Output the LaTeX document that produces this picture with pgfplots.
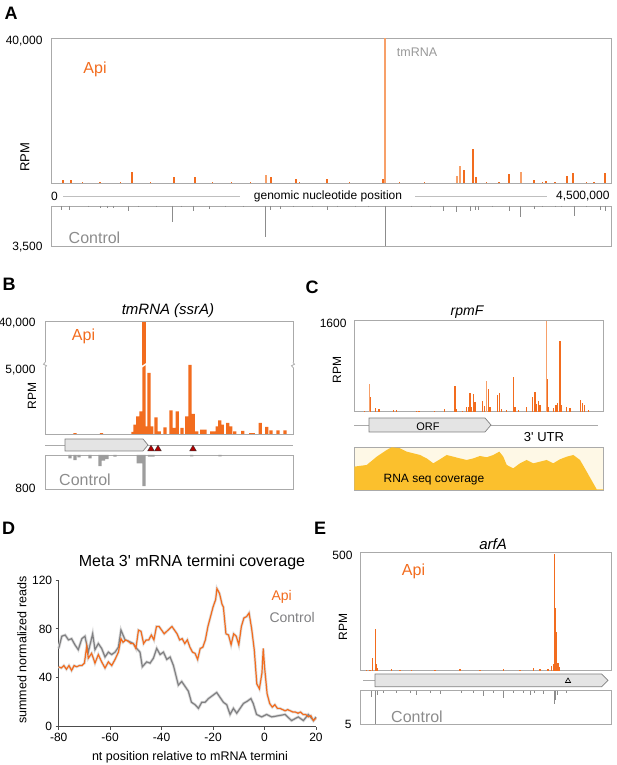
\documentclass[border=0pt]{standalone}
\usepackage{pgfplots}
\pgfplotsset{compat=1.18}
\usepackage{pgfplotstable}
\usepackage{fontspec}
\setmainfont{Liberation Sans}

\definecolor{api}{RGB}{242,108,30}
\definecolor{apipale}{RGB}{247,160,105}
\definecolor{ctrl}{RGB}{140,140,140}
\definecolor{frame}{RGB}{170,170,170}
\definecolor{genefill}{RGB}{228,228,228}
\definecolor{covfill}{RGB}{251,192,45}
\definecolor{covbg}{RGB}{254,248,230}
\definecolor{dgray}{RGB}{128,128,130}

\newcommand{\fs}[1]{\fontsize{#1}{#1}\selectfont}

\pgfplotsset{
  track/.style={scale only axis, anchor=south west,
    axis line style={draw=frame, line width=0.9pt},
    xtick=\empty, ytick=\empty},
  gene/.style={scale only axis, anchor=south west, hide axis,
    clip=false, ymin=0, ymax=1},
}
\tikzset{px/.style={x=1pt,y=1pt}}

% panel D: meta coverage
\pgfplotstableread{
x y
-80 49
-79 48
-78 50
-77 47
-76 50
-75 46
-74 50
-73 49
-72 50
-71 50
-70 52
-69.1 66
-68.5 56
-67.2 60
-65.9 52
-64.6 59
-63.3 53
-62 48
-60.7 53
-59.4 50
-58.1 55
-56.8 61
-55.8 72
-55 69
-54 71
-53 70
-52 68
-51 68
-50 64
-49 79
-48 78
-47 68
-46 71
-45 71
-44 75
-43 71
-42 82
-41 82
-40 79
-39 76
-38 78
-37 80
-36 82
-35 79
-34 76
-33 71
-32 72
-31 68
-30 71
-29 65
-28 61
-27 60
-26 55
-25 64
-24 65
-23 71
-22 82
-21 90
-20 98
-19 104
-18.5 113
-17.5 109
-16.5 100
-16 98
-15 76
-14 75
-13 67
-12 76
-11 74
-10 67
-9 82
-8 89
-7 90
-6 93
-5 80
-4 63
-3 35
-2 31
-1 44
-0.5 64
0 49
1 27
2 19
3 16
4 18
5 15
6 15
7 14
8 13
9 14
10 13
11 12
12 12
13 11
14 12
15 10
16 10
17 8
18 9
19 5
20 7
}\apimeta

\pgfplotstableread{
x y
-80 64
-78.8 74
-77.5 75
-76.2 71
-75 72
-73.7 67
-72.4 63
-71 72
-69.8 74
-68.5 61
-66.8 76
-65.9 63
-64.6 68
-63.3 64
-62 57
-60.7 61
-59.4 59
-58.1 61
-56.8 65
-55.8 79
-54.2 71
-52.9 70
-51 68
-49.7 64
-48.4 61
-47.5 49
-45.8 53
-44.5 52
-43.2 56
-41.9 64
-40.6 59
-39.3 61
-38 55
-36.7 57
-35.4 50
-33.5 34
-32.2 37
-30.9 33
-29.6 29
-28.4 20
-27 18
-25.7 15
-24.4 20
-23.1 20
-21.8 23
-20.5 25
-18.6 28
-17.3 24
-16 20
-14.7 18
-13.4 10
-12.1 15
-10.8 11
-9.5 15
-8.2 19
-6.6 21
-5.3 23
-4.4 19
-3.1 10
-1.1 8
0.8 10
2.8 8
5.4 9
8 10
10.5 5
13.1 8
15.1 5
17 10
19 5
20 8
}\ctrlmeta

% panel C: RNA seq coverage (% of box height)
\pgfplotstableread{
x y
0 54.7
12.4 58.6
22.4 78
32.4 93.8
37.4 100
45.7 97.7
52.4 89.8
59 86
65.7 82
72.4 74
79 62.5
85.7 71.9
92.4 82
99 78
105.7 74
112.4 70.3
119 74
125.7 79.7
132.4 76.6
139 82
145 89.8
149 78
152.4 58.6
159 50.8
165.7 62.5
172.4 70.3
179 62.5
185.7 66.4
192.4 70.3
199 62.5
205.7 71.9
212.4 78
219 82
225.7 70.3
232.4 43
239 15.6
242.4 1.6
249 1.6
}\rnacov

\begin{document}
\begin{tikzpicture}
\path[use as bounding box] (0pt,0pt) rectangle (617pt,765pt);

%% ---------------- A ----------------
\begin{axis}[track, at={(51pt,582pt)}, width=560pt, height=145pt,
  xmin=0, xmax=4500000, ymin=0, ymax=40000]
\addplot[ycomb, color=api, line width=1.2pt] coordinates {
 (96000,700) (161000,700) (250000,300) (394000,400) (560000,250)
 (651000,3000) (800000,300) (988000,1650) (1157000,1650) (1300000,250)
 (1450000,300) (1600000,250) (1768000,1650) (1969000,1100) (2000000,300)
 (2218000,1100) (2400000,250) (2668000,1100) (2800000,300) (3000000,300)
 (3319000,3600) (3391000,9400) (3415000,1650) (3500000,300) (3600000,250)
 (3680000,2500) (3881000,830) (3950000,350) (3978000,550) (4050000,300)
 (4146000,1900) (4195000,2800) (4300000,300) (4363000,400) (4452000,2800)
};
\addplot[ycomb, color=apipale, line width=1.2pt] coordinates {
 (1728000,2200) (2684000,40000) (3262000,1900) (3287000,4700) (3777000,3000)
};
\end{axis}
\begin{axis}[track, at={(51pt,519pt)}, width=560pt, height=40pt,
  xmin=0, xmax=4500000, ymin=0, ymax=3500, y dir=reverse]
\addplot[ycomb, color=ctrl, line width=0.9pt] coordinates {
 (80000,350) (145000,350) (300000,130) (394000,175) (450000,175) (498000,175)
 (619000,440) (700000,130) (850000,130) (972000,1400) (1050000,130)
 (1141000,440) (1270000,260) (1400000,130) (1550000,130) (1720000,2700)
 (1760000,350) (1840000,260) (1950000,130) (2100000,130) (2218000,350)
 (2300000,130) (2450000,130) (2550000,130) (2684000,3500) (2900000,130)
 (3050000,130) (3150000,440) (3262000,525) (3367000,440) (3407000,350)
 (3431000,350) (3550000,130) (3680000,440) (3769000,960) (3881000,260)
 (3950000,130) (4050000,130) (4100000,130) (4203000,875) (4300000,130)
 (4412000,350) (4452000,440)
};
\end{axis}
\begin{scope}[px]
\node[font=\fs{18}\bfseries] at (11,752) {A};
\node[anchor=east, font=\fs{12}] at (46,724) {40,000};
\node[rotate=90, font=\fs{13}] at (25,608) {RPM};
\node[font=\fs{16}, text=api] at (95,696) {Api};
\node[font=\fs{12.5}, text=black!40] at (417,713) {tmRNA};
\node[font=\fs{12}] at (54.5,569) {0};
\node[font=\fs{12}] at (328,569) {genomic nucleotide position};
\node[anchor=east, font=\fs{12}] at (613,569) {4,500,000};
\draw[black!25, line width=0.8pt] (63,569) -- (240,569) (415,569) -- (547,569);
\node[font=\fs{16}, text=ctrl] at (94.5,527.5) {Control};
\node[anchor=east, font=\fs{12}] at (46,518) {3,500};
\end{scope}

%% ---------------- B ----------------
\begin{axis}[scale only axis, anchor=south west, hide axis, at={(45pt,331pt)},
  width=248pt, height=69pt, xmin=0, xmax=248, ymin=0, ymax=5000]
\addplot[ybar, bar width=3.2, bar shift=0pt, fill=api, draw=none] coordinates {
 (30,70) (56.5,70) (88,145) (90,675) (92.7,1275) (96,1640) (99,40000)
 (101,550) (104,4420) (106.7,550) (111,1200) (114.3,190) (120,480)
 (126,1710) (128.7,435) (132.3,1640) (137,435) (141.7,1275) (145,5000)
 (148.3,1450) (151.7,190) (156.7,310) (160,310) (166.7,190) (169.3,190)
 (172.3,550) (174.7,985) (177.3,675) (182.7,800) (185.7,550) (189.7,190)
 (197.7,220) (205.7,70) (208.3,70) (215.3,800) (221.7,510) (226,260)
 (233,260) (240,260)
};
\end{axis}
\begin{axis}[scale only axis, anchor=south west, hide axis, at={(45pt,400pt)},
  width=248pt, height=44pt, xmin=0, xmax=248, ymin=5000, ymax=40000]
\addplot[ybar, bar width=3.2, bar shift=0pt, fill=api, draw=none] coordinates {
 (99,40000)
};
\end{axis}
\begin{scope}[px]
\draw[frame, line width=0.9pt] (45,331) rectangle (293,444);
\fill[white] (43,397.5) rectangle (47,402.5) (291,397.5) rectangle (295,402.5);
\draw[frame, line width=0.8pt] (45,402.5) -- (43.5,400.8) -- (46.5,399.2) -- (45,397.5)
  (293,402.5) -- (294.5,400.8) -- (291.5,399.2) -- (293,397.5);
\draw[white, line width=1.4pt] (141.5,398) -- (147.5,402);
\end{scope}
\begin{axis}[gene, at={(45pt,314pt)}, width=248pt, height=12pt, xmin=0, xmax=248]
\addplot[frame, line width=0.8pt] coordinates {(0,0.5) (248,0.5)};
\addplot[fill=genefill, draw=black!50, line width=0.7pt] coordinates {
 (20,0) (98,0) (103,0.5) (98,1) (20,1)} -- cycle;
\addplot[only marks, mark=triangle*, mark size=3.8pt,
  mark options={fill=red!70!black, draw=black!80, line width=0.4pt}]
  coordinates {(106,0.17) (113,0.17) (148,0.17)};
\end{axis}
\begin{axis}[track, at={(45pt,276pt)}, width=248pt, height=34pt,
  xmin=0, xmax=248, ymin=0, ymax=800, y dir=reverse]
\addplot[ybar, bar width=3.2, bar shift=0pt, fill=ctrl!85, draw=none] coordinates {
 (25,78) (30,118) (34,55) (45,78) (55,260) (58.5,133) (62,100) (70,40)
 (93.3,195) (96,195) (99,730) (104.5,40) (108,40) (146.7,30) (175,30)
};
\end{axis}
\begin{scope}[px]
\node[font=\fs{18}\bfseries] at (9,481) {B};
\node[font=\fs{15}\itshape] at (168,454) {tmRNA (ssrA)};
\node[anchor=east, font=\fs{12}] at (39,442) {40,000};
\node[anchor=east, font=\fs{12}] at (39,395) {5,000};
\node[rotate=90, font=\fs{12}] at (32,369) {RPM};
\node[font=\fs{16}, text=api] at (83.5,429) {Api};
\node[font=\fs{16}, text=ctrl] at (85,285) {Control};
\node[anchor=east, font=\fs{12}] at (39,277) {800};
\end{scope}

%% ---------------- C ----------------
\begin{axis}[track, at={(354.3pt,353.3pt)}, width=249pt, height=91pt,
  xmin=0, xmax=249, ymin=0, ymax=1600]
\addplot[ycomb, color=apipale, line width=1.4pt] coordinates {
 (15.4,488) (132.4,547) (192.4,1600)
};
\addplot[ycomb, color=api, line width=1.4pt] coordinates {
 (10,12) (16.4,262) (21.4,65) (24.7,54) (39,24) (42.4,24) (62.4,18)
 (64.7,18) (80,10) (90,54) (100.7,452) (102.4,54) (108,15) (112.4,83)
 (114,83) (115.7,321) (117.4,83) (119,303) (120.7,173) (128.4,184)
 (130,101) (134,399) (135.7,83) (143.4,291) (145,321) (147.4,54)
 (152.4,36) (159.4,613) (160.7,83) (164,36) (172.4,83) (178.4,262)
 (180.7,339) (182.4,143) (184,184) (185.7,113) (193,577) (194,83)
 (199,65) (201.7,125) (203.4,161) (205.7,1244) (207.4,113) (212.4,83)
 (215.7,65) (226.4,202) (228,161) (230,113) (234,24)
};
\end{axis}
\begin{axis}[gene, at={(354.3pt,333pt)}, width=249pt, height=14pt, xmin=0, xmax=249]
\addplot[frame, line width=0.8pt] coordinates {(0,0.5) (244,0.5)};
\addplot[fill=genefill, draw=black!50, line width=0.7pt] coordinates {
 (14.7,0) (130.7,0) (136.7,0.5) (130.7,1) (14.7,1)} -- cycle;
\end{axis}
\begin{axis}[track, at={(354.3pt,275pt)}, width=249pt, height=42.7pt,
  xmin=0, xmax=249, ymin=0, ymax=100,
  axis background/.style={fill=covbg}]
\addplot[fill=covfill, draw=none] table {\rnacov} \closedcycle;
\end{axis}
\begin{scope}[px]
\node[font=\fs{18}\bfseries] at (312,478) {C};
\node[font=\fs{14}\itshape] at (467,453) {rpmF};
\node[anchor=east, font=\fs{12}] at (350,442) {1600};
\node[rotate=90, font=\fs{12}] at (337,395) {RPM};
\node[font=\fs{11}] at (428,338) {ORF};
\node[font=\fs{13}] at (544,327.5) {3\textquotesingle\ UTR};
\node[font=\fs{12}] at (434,285) {RNA seq coverage};
\end{scope}

%% ---------------- D ----------------
\begin{axis}[scale only axis, anchor=south west, at={(58.7pt,38.3pt)},
  width=257.3pt, height=146.7pt, xmin=-80, xmax=20, ymin=0, ymax=120,
  axis lines=left, axis line style={-, draw=black!70, line width=0.8pt},
  xtick={-80,-60,-40,-20,0,20}, xticklabels={-80,-60,-40,-20,0,20},
  ytick={0,40,80,120}, yticklabels={0,40,80,120},
  tick align=outside, major tick length=3pt,
  tick style={black!70, line width=0.8pt},
  ticklabel style={font=\fs{12}}, clip=false]
\addplot[black!15, line width=2.8pt] table {\ctrlmeta};
\addplot[black!12, line width=2.8pt] table {\apimeta};
\addplot[dgray, line width=1.2pt] table {\ctrlmeta};
\addplot[api, line width=1.2pt] table {\apimeta};
\end{axis}
\begin{scope}[px]
\node[font=\fs{18}\bfseries] at (8.5,237) {D};
\node[font=\fs{16}] at (192,203) {Meta 3\textquotesingle\ mRNA termini coverage};
\node[anchor=west, font=\fs{14}, text=api] at (268,168) {Api};
\node[anchor=west, font=\fs{14}, text=dgray] at (266,148) {Control};
\node[rotate=90, font=\fs{12.5}] at (22,115) {summed normalized reads};
\node[font=\fs{12.5}] at (190,8) {nt position relative to mRNA termini};
\end{scope}

%% ---------------- E ----------------
\begin{axis}[track, at={(360pt,94.3pt)}, width=251.7pt, height=118pt,
  xmin=0, xmax=251.7, ymin=0, ymax=500]
\addplot[ycomb, color=api, line width=1.3pt] coordinates {
 (6.7,4) (10,5) (12.7,54) (15.7,177) (16.7,29) (17.7,10) (31.7,7) (40,4)
 (51.7,4) (75,3) (100,7) (120,4) (143.3,7) (160,5) (173.3,10) (180,7)
 (188,6) (191.7,22) (193.3,29) (194.3,493) (195.7,264) (196.7,164)
 (198,32) (199,14)
};
\end{axis}
\begin{axis}[gene, at={(360pt,78.3pt)}, width=251.7pt, height=12.7pt, xmin=0, xmax=251.7]
\addplot[frame, line width=0.8pt] coordinates {(3,0.5) (15,0.5)};
\addplot[fill=genefill, draw=black!50, line width=0.7pt] coordinates {
 (15,0) (241.7,0) (248,0.5) (241.7,1) (15,1)} -- cycle;
\addplot[only marks, mark=triangle, mark size=3pt,
  mark options={draw=black, line width=0.6pt}] coordinates {(208,0.45)};
\end{axis}
\begin{axis}[track, at={(360pt,41pt)}, width=251.7pt, height=33.3pt,
  xmin=0, xmax=251.7, ymin=0, ymax=5, y dir=reverse]
\addplot[ycomb, color=ctrl, line width=1pt] coordinates {
 (11.7,0.9) (15.7,5) (17.3,0.65) (23.3,0.4) (36.7,0.3) (50,0.4) (56.7,0.65)
 (70,0.3) (80,0.45) (101.7,0.3) (113.3,0.3) (123.3,0.8) (133.3,0.3)
 (143.3,1.15) (153.3,0.4) (163.3,0.4) (170,0.65) (174,0.4) (183.3,0.45)
 (194,2.0) (195.3,1.4) (197.3,0.65) (206.7,0.4)
};
\end{axis}
\begin{scope}[px]
\node[font=\fs{18}\bfseries] at (320,237) {E};
\node[font=\fs{15}\itshape] at (493,221) {arfA};
\node[anchor=east, font=\fs{12}] at (356,210) {500};
\node[font=\fs{16}, text=api] at (413.5,193.5) {Api};
\node[rotate=90, font=\fs{12}] at (343,138) {RPM};
\node[font=\fs{16}, text=ctrl] at (417,48.5) {Control};
\node[anchor=east, font=\fs{12}] at (355,41) {5};
\end{scope}
\end{tikzpicture}
\end{document}
